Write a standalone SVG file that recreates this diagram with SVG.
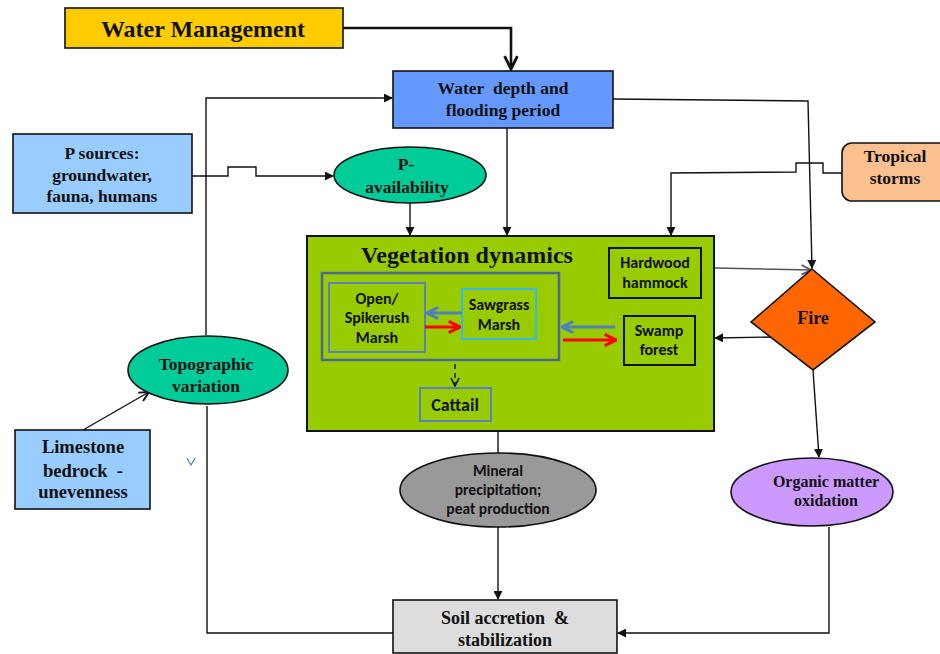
<svg xmlns="http://www.w3.org/2000/svg" width="940" height="654" viewBox="0 0 940 654">
<style>
.serif{font-family:"Liberation Serif","Times New Roman",serif;font-weight:bold;fill:#111;text-anchor:middle}
.sans{font-family:Carlito,Lato,"Liberation Sans",sans-serif;font-weight:bold;fill:#111;text-anchor:middle}
.box{stroke:#111;stroke-width:1.6}
.ln{fill:none;stroke:#111;stroke-width:1.4}
.blue{fill:none;stroke:#4F81BD;stroke-width:3}
.red{fill:none;stroke:#FF0000;stroke-width:3}
</style>
<defs>
<marker id="af" viewBox="0 0 10 10" refX="9" refY="5" markerWidth="9" markerHeight="9" markerUnits="userSpaceOnUse" orient="auto">
<path d="M0,0 L10,5 L0,10 z" fill="#111"/>
</marker>
<marker id="ao" viewBox="0 0 10 10" refX="9" refY="5" markerWidth="12" markerHeight="12" markerUnits="userSpaceOnUse" orient="auto">
<path d="M1,1 L9,5 L1,9" fill="none" stroke="#111" stroke-width="1.6"/>
</marker>
<marker id="ag" viewBox="0 0 10 10" refX="9" refY="5" markerWidth="12" markerHeight="12" markerUnits="userSpaceOnUse" orient="auto">
<path d="M1,1 L9,5 L1,9" fill="none" stroke="#555" stroke-width="1.4"/>
</marker>
<marker id="aw" viewBox="0 0 10 10" refX="9" refY="5" markerWidth="16" markerHeight="16" markerUnits="userSpaceOnUse" orient="auto">
<path d="M1,1 L9,5 L1,9" fill="none" stroke="#111" stroke-width="1.8"/>
</marker>
<marker id="ab" viewBox="0 0 10 10" refX="9" refY="5" markerWidth="14" markerHeight="14" markerUnits="userSpaceOnUse" orient="auto">
<path d="M1,1 L9,5 L1,9" fill="none" stroke="#4F81BD" stroke-width="2.2"/>
</marker>
<marker id="ar" viewBox="0 0 10 10" refX="9" refY="5" markerWidth="14" markerHeight="14" markerUnits="userSpaceOnUse" orient="auto">
<path d="M1,1 L9,5 L1,9" fill="none" stroke="#FF0000" stroke-width="2.2"/>
</marker>
<marker id="ad" viewBox="0 0 10 10" refX="9" refY="5" markerWidth="10" markerHeight="10" markerUnits="userSpaceOnUse" orient="auto">
<path d="M1,1 L9,5 L1,9" fill="none" stroke="#111" stroke-width="1.6"/>
</marker>
</defs>
<rect width="940" height="654" fill="#fff"/>

<g id="connectors">
<path class="ln" d="M343,28 H511 V69" style="stroke-width:2.6" marker-end="url(#aw)"/>
<path class="ln" d="M206,335 V98 H392" marker-end="url(#af)"/>
<path class="ln" d="M207,406 V633 H393"/>
<path class="ln" d="M192,176 H228 V167 H256 V176 H333" marker-end="url(#af)"/>
<path class="ln" d="M410,203 V235" marker-end="url(#af)"/>
<path class="ln" d="M507,128 V235" marker-end="url(#af)"/>
<path class="ln" d="M613,99 L808,101 L812,268" marker-end="url(#af)"/>
<path class="ln" d="M842,173 H823 V163 H796 V172 L671,173 V235" marker-end="url(#af)"/>
<path class="ln" d="M715,268 L811,270" style="stroke:#555" marker-end="url(#ag)"/>
<path class="ln" d="M773,337 L715,338" marker-end="url(#af)"/>
<path class="ln" d="M813,370 L819,457" marker-end="url(#af)"/>
<path class="ln" d="M498,431 V453"/>
<path class="ln" d="M498,527 V599" marker-end="url(#af)"/>
<path class="ln" d="M829,527 V633 H618" marker-end="url(#af)"/>
<path class="ln" d="M83,430 L149,392" marker-end="url(#ao)"/>
<path d="M187,458 L191,465 L195,458" fill="none" stroke="#4F81BD" stroke-width="1.2"/>
</g>

<g id="water-management">
<rect class="box" x="65" y="8" width="278" height="40" fill="#FFCC00"/>
<text class="serif" x="203" y="37" font-size="24">Water Management</text>
</g>

<g id="water-depth">
<rect class="box" x="393" y="71" width="220" height="57" fill="#6699FF"/>
<text class="serif" x="503" y="94" font-size="17.5">Water&#160; depth and</text>
<text class="serif" x="503" y="116" font-size="17.5">flooding period</text>
</g>

<g id="p-sources">
<rect class="box" x="13" y="134" width="179" height="79" fill="#99CCFF"/>
<text class="serif" x="102" y="159" font-size="17.5">P sources:</text>
<text class="serif" x="102" y="181" font-size="17.5">groundwater,</text>
<text class="serif" x="102" y="202" font-size="17.5">fauna, humans</text>
</g>

<g id="p-availability">
<ellipse class="box" cx="410" cy="175" rx="76" ry="28" fill="#00CC99"/>
<text class="serif" x="406" y="170" font-size="17.5">P-</text>
<text class="serif" x="407" y="193" font-size="17.5">availability</text>
</g>

<g id="tropical-storms">
<rect class="box" x="842" y="143" width="112" height="58" rx="10" fill="#FAC090"/>
<text class="serif" x="895" y="162" font-size="17.5">Tropical</text>
<text class="serif" x="895" y="184" font-size="17.5">storms</text>
</g>

<g id="vegetation-dynamics">
<rect x="307" y="236" width="407" height="195" fill="#99CC00" stroke="#111" stroke-width="2"/>
<text class="serif" x="467" y="263" font-size="24">Vegetation dynamics</text>
</g>

<g id="marsh-group">
<rect x="322" y="273" width="237" height="87" fill="none" stroke="#4A6795" stroke-width="2.5"/>
</g>

<g id="open-spikerush-marsh">
<rect x="329" y="283" width="96" height="69" fill="none" stroke="#5B7FBF" stroke-width="2"/>
<text class="sans" x="377" y="304" font-size="16">Open/</text>
<text class="sans" x="377" y="323" font-size="16">Spikerush</text>
<text class="sans" x="377" y="343" font-size="16">Marsh</text>
</g>

<g id="sawgrass-marsh">
<rect x="462" y="289" width="74" height="50" fill="none" stroke="#33BBEE" stroke-width="2"/>
<text class="sans" x="499" y="310" font-size="16">Sawgrass</text>
<text class="sans" x="499" y="330" font-size="16">Marsh</text>
</g>

<g id="hardwood-hammock">
<rect x="609" y="248" width="92" height="50" fill="none" stroke="#111" stroke-width="2"/>
<text class="sans" x="655" y="268" font-size="16">Hardwood</text>
<text class="sans" x="655" y="288" font-size="16">hammock</text>
</g>

<g id="swamp-forest">
<rect x="624" y="316" width="71" height="49" fill="none" stroke="#111" stroke-width="2"/>
<text class="sans" x="659" y="336" font-size="16">Swamp</text>
<text class="sans" x="659" y="355" font-size="16">forest</text>
</g>

<g id="cattail">
<rect x="420" y="388" width="71" height="33" fill="none" stroke="#5B7FBF" stroke-width="2"/>
<text class="sans" x="455" y="411" font-size="18">Cattail</text>
</g>

<g id="vegetation-connectors">
<path class="blue" d="M462,313 H427" marker-end="url(#ab)"/>
<path class="red" d="M425,327 H460" marker-end="url(#ar)"/>
<path class="blue" d="M615,327 H562" marker-end="url(#ab)"/>
<path class="red" d="M563,340 H616" marker-end="url(#ar)"/>
<path class="ln" d="M455,364 V386" style="stroke-dasharray:5 4" marker-end="url(#ad)"/>
</g>

<g id="fire">
<polygon class="box" points="812,269 875,322 813,370 751,322" fill="#FF6600"/>
<text class="serif" x="813" y="324" font-size="18">Fire</text>
</g>

<g id="topographic-variation">
<ellipse class="box" cx="208" cy="370" rx="80" ry="34" fill="#00CC99"/>
<text class="serif" x="206" y="370" font-size="17.5">Topographic</text>
<text class="serif" x="206" y="392" font-size="17.5">variation</text>
</g>

<g id="limestone-bedrock">
<rect class="box" x="15" y="430" width="135" height="79" fill="#99CCFF"/>
<text class="serif" x="83" y="453" font-size="18.5">Limestone</text>
<text class="serif" x="83" y="477" font-size="18.5">bedrock&#160; -</text>
<text class="serif" x="83" y="498" font-size="18.5">unevenness</text>
</g>

<g id="mineral-precipitation">
<ellipse class="box" cx="498" cy="490" rx="98" ry="37" fill="#999999"/>
<text class="sans" x="498" y="476" font-size="15.5">Mineral</text>
<text class="sans" x="498" y="495" font-size="15.5">precipitation;</text>
<text class="sans" x="498" y="514" font-size="15.5">peat production</text>
</g>

<g id="organic-matter-oxidation">
<ellipse class="box" cx="812" cy="492" rx="81" ry="34" fill="#CC99FF"/>
<text class="serif" x="826" y="487" font-size="16">Organic matter</text>
<text class="serif" x="826" y="506" font-size="16">oxidation</text>
</g>

<g id="soil-accretion">
<rect class="box" x="393" y="600" width="224" height="53" fill="#DDDDDD"/>
<text class="serif" x="505" y="624" font-size="18">Soil accretion&#160; &amp;</text>
<text class="serif" x="505" y="646" font-size="18">stabilization</text>
</g>
</svg>
